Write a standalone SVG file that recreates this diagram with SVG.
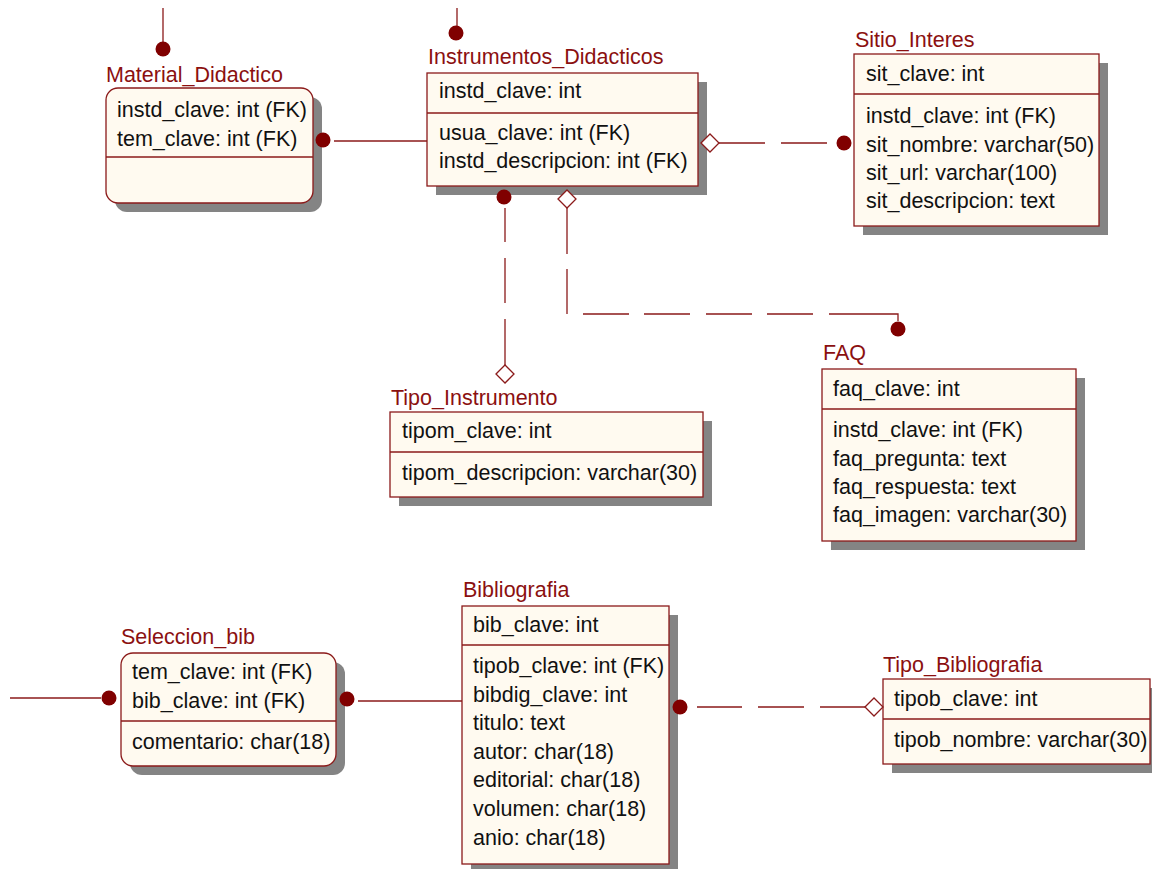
<svg xmlns="http://www.w3.org/2000/svg" xmlns:xlink="http://www.w3.org/1999/xlink" width="1152" height="869" viewBox="0 0 1152 869">
  <style>
    .t { font-family: "Liberation Sans", Arial, sans-serif; font-size: 21.5px; fill: #111; }
    .ttl { fill: #8b1010; }
    .box { fill: #fffaf0; stroke: #8b1a1a; stroke-width: 1.3; }
    .sh { fill: #848484; }
    .dv { stroke: #8b1a1a; stroke-width: 1.3; }
    .cn { stroke: #8b1a1a; stroke-width: 1.3; fill: none; }
    .dot { fill: #800000; }
    .dia { fill: #ffffff; stroke: #8b1a1a; stroke-width: 1.3; }
  </style>
  <defs>
    <path id="diamond" d="M-9 0 L0 -9 L9 0 L0 9 Z"/>
  </defs>
  <rect width="1152" height="869" fill="#ffffff"/>

  <!-- Entities -->
  <g id="Material_Didactico">
    <rect class="sh" x="115" y="97" width="207" height="115" rx="12"/>
    <rect class="box" x="106" y="88" width="207" height="115" rx="12"/>
    <line class="dv" x1="106" y1="157" x2="313" y2="157"/>
    <text class="t ttl" x="106" y="82">Material_Didactico</text>
    <text class="t" x="117" y="117">instd_clave: int (FK)</text>
    <text class="t" x="117" y="146">tem_clave: int (FK)</text>
  </g>

  <g id="Instrumentos_Didacticos">
    <rect class="sh" x="436" y="82" width="271" height="113"/>
    <rect class="box" x="427" y="73" width="271" height="113"/>
    <line class="dv" x1="427" y1="113" x2="698" y2="113"/>
    <text class="t ttl" x="428" y="64">Instrumentos_Didacticos</text>
    <text class="t" x="439" y="98">instd_clave: int</text>
    <text class="t" x="439" y="140">usua_clave: int (FK)</text>
    <text class="t" x="439" y="168">instd_descripcion: int (FK)</text>
  </g>

  <g id="Sitio_Interes">
    <rect class="sh" x="863" y="63" width="245" height="172"/>
    <rect class="box" x="854" y="54" width="245" height="172"/>
    <line class="dv" x1="854" y1="94" x2="1099" y2="94"/>
    <text class="t ttl" x="855" y="47">Sitio_Interes</text>
    <text class="t" x="866" y="81">sit_clave: int</text>
    <text class="t" x="866" y="123">instd_clave: int (FK)</text>
    <text class="t" x="866" y="152">sit_nombre: varchar(50)</text>
    <text class="t" x="866" y="180">sit_url: varchar(100)</text>
    <text class="t" x="866" y="208">sit_descripcion: text</text>
  </g>

  <g id="Tipo_Instrumento">
    <rect class="sh" x="399" y="421" width="313" height="85"/>
    <rect class="box" x="390" y="412" width="313" height="85"/>
    <line class="dv" x1="390" y1="452" x2="703" y2="452"/>
    <text class="t ttl" x="391" y="405">Tipo_Instrumento</text>
    <text class="t" x="402" y="438">tipom_clave: int</text>
    <text class="t" x="402" y="480">tipom_descripcion: varchar(30)</text>
  </g>

  <g id="FAQ">
    <rect class="sh" x="831" y="378" width="254" height="172"/>
    <rect class="box" x="822" y="369" width="254" height="172"/>
    <line class="dv" x1="822" y1="409" x2="1076" y2="409"/>
    <text class="t ttl" x="823" y="360">FAQ</text>
    <text class="t" x="833" y="396">faq_clave: int</text>
    <text class="t" x="833" y="437">instd_clave: int (FK)</text>
    <text class="t" x="833" y="466">faq_pregunta: text</text>
    <text class="t" x="833" y="494">faq_respuesta: text</text>
    <text class="t" x="833" y="522">faq_imagen: varchar(30)</text>
  </g>

  <g id="Seleccion_bib">
    <rect class="sh" x="130" y="662" width="215" height="113" rx="12"/>
    <rect class="box" x="121" y="653" width="215" height="113" rx="12"/>
    <line class="dv" x1="121" y1="721" x2="336" y2="721"/>
    <text class="t ttl" x="121" y="644">Seleccion_bib</text>
    <text class="t" x="132" y="679">tem_clave: int (FK)</text>
    <text class="t" x="132" y="708">bib_clave: int (FK)</text>
    <text class="t" x="132" y="749">comentario: char(18)</text>
  </g>

  <g id="Bibliografia">
    <rect class="sh" x="471" y="615" width="207" height="258"/>
    <rect class="box" x="462" y="606" width="207" height="258"/>
    <line class="dv" x1="462" y1="645" x2="669" y2="645"/>
    <text class="t ttl" x="463" y="597">Bibliografia</text>
    <text class="t" x="473" y="632">bib_clave: int</text>
    <text class="t" x="473" y="673">tipob_clave: int (FK)</text>
    <text class="t" x="473" y="702">bibdig_clave: int</text>
    <text class="t" x="473" y="730">titulo: text</text>
    <text class="t" x="473" y="759">autor: char(18)</text>
    <text class="t" x="473" y="787">editorial: char(18)</text>
    <text class="t" x="473" y="816">volumen: char(18)</text>
    <text class="t" x="473" y="845">anio: char(18)</text>
  </g>

  <g id="Tipo_Bibliografia">
    <rect class="sh" x="892" y="688" width="267" height="85"/>
    <rect class="box" x="883" y="679" width="267" height="85"/>
    <line class="dv" x1="883" y1="719" x2="1150" y2="719"/>
    <text class="t ttl" x="883" y="672">Tipo_Bibliografia</text>
    <text class="t" x="894" y="706">tipob_clave: int</text>
    <text class="t" x="894" y="747">tipob_nombre: varchar(30)</text>
  </g>

  <!-- Relationships -->
  <g id="connectors">
    <!-- incoming links from above -->
    <path class="cn" d="M163 8 V42"/>
    <circle class="dot" cx="163" cy="49" r="7.5"/>
    <path class="cn" d="M457 8 V26"/>
    <circle class="dot" cx="456" cy="33" r="7.5"/>

    <!-- Material_Didactico - Instrumentos_Didacticos -->
    <circle class="dot" cx="323" cy="140" r="7.5"/>
    <path class="cn" d="M334 141 H427"/>

    <!-- Instrumentos_Didacticos - Sitio_Interes -->
    <use href="#diamond" class="dia" x="710" y="143"/>
    <path class="cn" d="M719 143 H765 M781 143 H827"/>
    <circle class="dot" cx="844" cy="143" r="7.5"/>

    <!-- Instrumentos_Didacticos - Tipo_Instrumento -->
    <circle class="dot" cx="504" cy="197" r="7.5"/>
    <path class="cn" d="M505 208 V242 M505 258 V303 M505 319 V365"/>
    <use href="#diamond" class="dia" x="505" y="374"/>

    <!-- Instrumentos_Didacticos - FAQ -->
    <use href="#diamond" class="dia" x="567" y="199"/>
    <path class="cn" d="M567 208 V254 M567 269 V314 M583 314 H629 M644 314 H690 M706 314 H752 M767 314 H813 M829 314 H898 V321"/>
    <circle class="dot" cx="898" cy="329" r="7.5"/>

    <!-- incoming link into Seleccion_bib -->
    <path class="cn" d="M10 698 H101"/>
    <circle class="dot" cx="109" cy="698" r="7.5"/>

    <!-- Seleccion_bib - Bibliografia -->
    <circle class="dot" cx="347" cy="699" r="7.5"/>
    <path class="cn" d="M358 701 H462"/>

    <!-- Bibliografia - Tipo_Bibliografia -->
    <circle class="dot" cx="680" cy="707" r="7.5"/>
    <path class="cn" d="M697 707 H742 M758 707 H804 M820 707 H865"/>
    <use href="#diamond" class="dia" x="874" y="707"/>
  </g>
</svg>
